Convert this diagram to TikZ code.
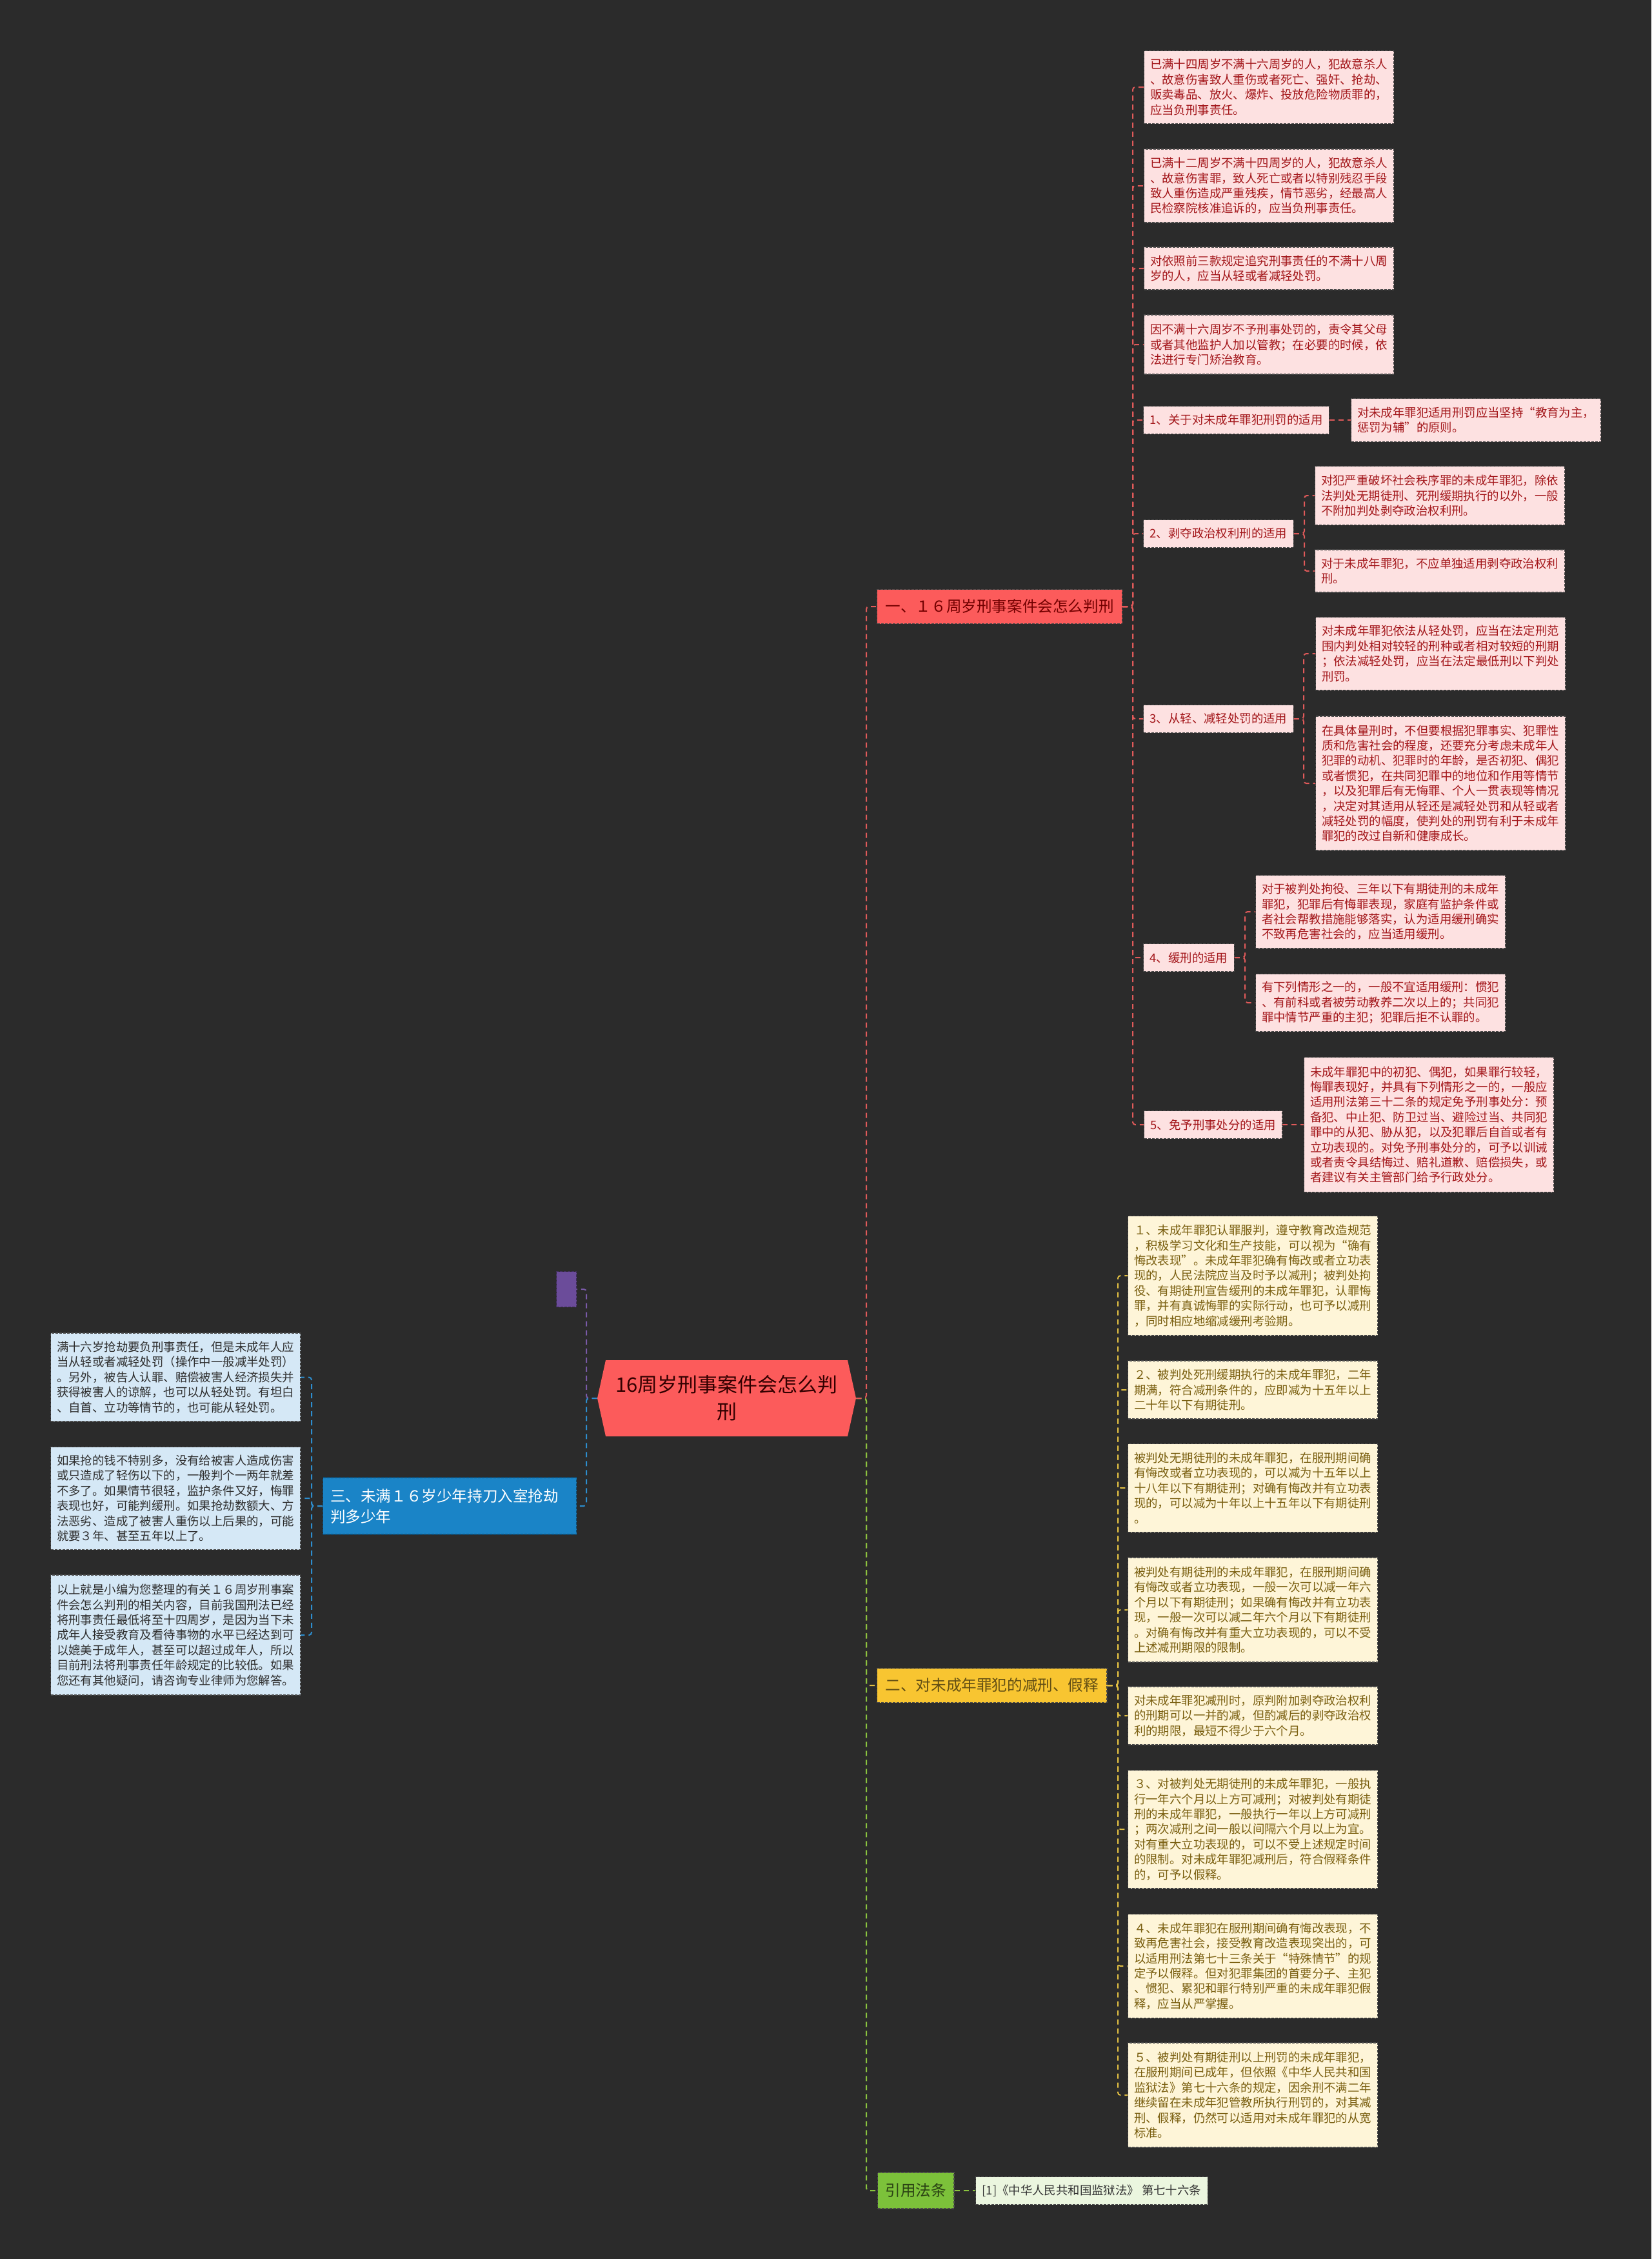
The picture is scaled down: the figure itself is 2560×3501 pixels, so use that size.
\documentclass[tikz,border=0pt]{standalone}
\usepackage{fontspec}
\setmainfont{Noto Sans CJK SC}
\usetikzlibrary{calc}
\definecolor{bg}{HTML}{2B2B2B}
\definecolor{mainred}{HTML}{FC5B5B}
\definecolor{redline}{HTML}{E05A5A}
\definecolor{pinkfill}{HTML}{FDE1E1}
\definecolor{pinktext}{HTML}{A3161A}
\definecolor{yelfill}{HTML}{FEF5D8}
\definecolor{yeltext}{HTML}{7A5F10}
\definecolor{yelnode}{HTML}{F8C531}
\definecolor{yelline}{HTML}{E2C043}
\definecolor{bluenode}{HTML}{1A84C7}
\definecolor{blueline}{HTML}{2D8ECF}
\definecolor{bluefill}{HTML}{D5E8F6}
\definecolor{purplenode}{HTML}{6B4C9A}
\definecolor{purpleline}{HTML}{7A5AA8}
\definecolor{greennode}{HTML}{7CC13A}
\definecolor{greenline}{HTML}{8AC43F}
\definecolor{greenfill}{HTML}{EBF6DF}
\definecolor{boxborder}{HTML}{4A4A4A}
\newcommand\fsmall{\fontsize{9.2pt}{11.7pt}\selectfont}
\newcommand\fmid{\fontsize{11.8pt}{16pt}\selectfont}
\newcommand\fbig{\fontsize{15.5pt}{21pt}\selectfont}
\tikzset{
  x=0.5pt, y=-0.5pt,
  boxbase/.style={rectangle, anchor=west, draw=boxborder, dash pattern=on 2pt off 1pt, line width=0.6pt, inner ysep=0pt, align=left},
  wide/.style={text width=184pt, inner xsep=4.75pt},
  pinkbox/.style={boxbase, fill=pinkfill, text=pinktext, font=\fsmall},
  subbox/.style={pinkbox, inner xsep=5pt, minimum height=21.5pt},
  yelbox/.style={boxbase, wide, fill=yelfill, text=yeltext, font=\fsmall},
  lbox/.style={boxbase, wide, fill=bluefill, text=black!82, font=\fsmall},
  secbox/.style={boxbase, font=\fmid, inner xsep=6.5pt, minimum height=26.5pt},
  conn/.style={dash pattern=on 4pt off 3pt, line width=1pt, rounded corners=2pt},
}
\begin{document}
\begin{tikzpicture}
\fill[bg] (0,0) rectangle (2560,3501);
\useasboundingbox (0,0) rectangle (2560,3501);

% bus coordinates
\coordinate (tr) at (1343,0);
\coordinate (b1) at (1756,0);
\coordinate (b2) at (2022,0);
\coordinate (b3) at (2021,0);
\coordinate (b4) at (1930,0);
\coordinate (b5) at (1733,0);
\coordinate (b6) at (909,0);
\coordinate (b7) at (483,0);

% main node
\fill[mainred] (939,2108) -- (1314,2108) -- (1327,2167) -- (1314,2226) -- (939,2226) -- (926,2167) -- cycle;
\node[minimum width=200.5pt, minimum height=59pt, inner sep=0pt, align=center, font=\fbig, text=black!80!red] (main) at (1126.5,2167) {16周岁刑事案件会怎么判\\刑};

% section nodes
\node[secbox, fill=mainred, text=black!55!red] (s1) at (1359,940) {一、１６周岁刑事案件会怎么判刑};
\node[secbox, fill=yelnode, text=black!60!yelnode] (s2) at (1359,2612) {二、对未成年罪犯的减刑、假释};
\node[secbox, fill=greennode, text=black!65!greennode, inner xsep=6pt, minimum height=28pt] (s3) at (1360,3395) {引用法条};
\node[boxbase, fill=greenfill, text=black!80, font=\fsmall, inner xsep=5pt, minimum height=21.5pt] (cite) at (1512,3395) {[1]《中华人民共和国监狱法》 第七十六条};
\node[boxbase, fill=purplenode, draw=purplenode!60!black, minimum width=15.5pt, minimum height=27.5pt, inner sep=0pt] (purple) at (862,1998) {};
\node[boxbase, fill=bluenode, draw=bluenode!60!black, text=white, font=\fmid, text width=185pt, inner xsep=5.75pt, minimum height=44pt] (blue) at (500,2334) {三、未满１６岁少年持刀入室抢劫\\判多少年};

% red branch
\node[pinkbox, wide, minimum height=56.5pt] (r1) at (1773,135) {已满十四周岁不满十六周岁的人，犯故意杀人\\、故意伤害致人重伤或者死亡、强奸、抢劫、\\贩卖毒品、放火、爆炸、投放危险物质罪的，\\应当负刑事责任。};
\node[pinkbox, wide, minimum height=57pt] (r2) at (1773,288) {已满十二周岁不满十四周岁的人，犯故意杀人\\、故意伤害罪，致人死亡或者以特别残忍手段\\致人重伤造成严重残疾，情节恶劣，经最高人\\民检察院核准追诉的，应当负刑事责任。};
\node[pinkbox, wide, minimum height=33pt] (r3) at (1773,416) {对依照前三款规定追究刑事责任的不满十八周\\岁的人，应当从轻或者减轻处罚。};
\node[pinkbox, wide, minimum height=46pt] (r4) at (1773,534) {因不满十六周岁不予刑事处罚的，责令其父母\\或者其他监护人加以管教；在必要的时候，依\\法进行专门矫治教育。};
\node[subbox] (sub1) at (1772,651) {1、关于对未成年罪犯刑罚的适用};
\node[pinkbox, wide, minimum height=33.5pt] (c1) at (2094,651) {对未成年罪犯适用刑罚应当坚持“教育为主，\\惩罚为辅”的原则。};
\node[subbox] (sub2) at (1772,827) {2、剥夺政治权利刑的适用};
\node[pinkbox, wide, minimum height=45.5pt] (c2a) at (2038,768) {对犯严重破坏社会秩序罪的未成年罪犯，除依\\法判处无期徒刑、死刑缓期执行的以外，一般\\不附加判处剥夺政治权利刑。};
\node[pinkbox, wide, minimum height=33pt] (c2b) at (2038,885) {对于未成年罪犯，不应单独适用剥夺政治权利\\刑。};
\node[subbox] (sub3) at (1772,1114) {3、从轻、减轻处罚的适用};
\node[pinkbox, wide, minimum height=56.5pt] (c3a) at (2039,1013) {对未成年罪犯依法从轻处罚，应当在法定刑范\\围内判处相对较轻的刑种或者相对较短的刑期\\；依法减轻处罚，应当在法定最低刑以下判处\\刑罚。};
\node[pinkbox, wide, minimum height=104pt] (c3b) at (2039,1214) {在具体量刑时，不但要根据犯罪事实、犯罪性\\质和危害社会的程度，还要充分考虑未成年人\\犯罪的动机、犯罪时的年龄，是否初犯、偶犯\\或者惯犯，在共同犯罪中的地位和作用等情节\\，以及犯罪后有无悔罪、个人一贯表现等情况\\，决定对其适用从轻还是减轻处罚和从轻或者\\减轻处罚的幅度，使判处的刑罚有利于未成年\\罪犯的改过自新和健康成长。};
\node[subbox] (sub4) at (1772,1484) {4、缓刑的适用};
\node[pinkbox, wide, minimum height=56.5pt] (c4a) at (1946,1413) {对于被判处拘役、三年以下有期徒刑的未成年\\罪犯，犯罪后有悔罪表现，家庭有监护条件或\\者社会帮教措施能够落实，认为适用缓刑确实\\不致再危害社会的，应当适用缓刑。};
\node[pinkbox, wide, minimum height=44.5pt] (c4b) at (1946,1554) {有下列情形之一的，一般不宜适用缓刑：惯犯\\、有前科或者被劳动教养二次以上的；共同犯\\罪中情节严重的主犯；犯罪后拒不认罪的。};
\node[subbox] (sub5) at (1773,1743) {5、免予刑事处分的适用};
\node[pinkbox, wide, minimum height=104.5pt] (c5) at (2021,1743) {未成年罪犯中的初犯、偶犯，如果罪行较轻，\\悔罪表现好，并具有下列情形之一的，一般应\\适用刑法第三十二条的规定免予刑事处分：预\\备犯、中止犯、防卫过当、避险过当、共同犯\\罪中的从犯、胁从犯，以及犯罪后自首或者有\\立功表现的。对免予刑事处分的，可予以训诫\\或者责令具结悔过、赔礼道歉、赔偿损失，或\\者建议有关主管部门给予行政处分。};

% yellow branch
\node[yelbox, minimum height=92.5pt] (y1) at (1748,1977) {１、未成年罪犯认罪服判，遵守教育改造规范\\，积极学习文化和生产技能，可以视为“确有\\悔改表现”。未成年罪犯确有悔改或者立功表\\现的，人民法院应当及时予以减刑；被判处拘\\役、有期徒刑宣告缓刑的未成年罪犯，认罪悔\\罪，并有真诚悔罪的实际行动，也可予以减刑\\，同时相应地缩减缓刑考验期。};
\node[yelbox, minimum height=45pt] (y2) at (1748,2154) {２、被判处死刑缓期执行的未成年罪犯，二年\\期满，符合减刑条件的，应即减为十五年以上\\二十年以下有期徒刑。};
\node[yelbox, minimum height=68.5pt] (y3) at (1748,2306) {被判处无期徒刑的未成年罪犯，在服刑期间确\\有悔改或者立功表现的，可以减为十五年以上\\十八年以下有期徒刑；对确有悔改并有立功表\\现的，可以减为十年以上十五年以下有期徒刑\\。};
\node[yelbox, minimum height=81pt] (y4) at (1748,2495) {被判处有期徒刑的未成年罪犯，在服刑期间确\\有悔改或者立功表现，一般一次可以减一年六\\个月以下有期徒刑；如果确有悔改并有立功表\\现，一般一次可以减二年六个月以下有期徒刑\\。对确有悔改并有重大立功表现的，可以不受\\上述减刑期限的限制。};
\node[yelbox, minimum height=45pt] (y5) at (1748,2659) {对未成年罪犯减刑时，原判附加剥夺政治权利\\的刑期可以一并酌减，但酌减后的剥夺政治权\\利的期限，最短不得少于六个月。};
\node[yelbox, minimum height=91.5pt] (y6) at (1748,2835) {３、对被判处无期徒刑的未成年罪犯，一般执\\行一年六个月以上方可减刑；对被判处有期徒\\刑的未成年罪犯，一般执行一年以上方可减刑\\；两次减刑之间一般以间隔六个月以上为宜。\\对有重大立功表现的，可以不受上述规定时间\\的限制。对未成年罪犯减刑后，符合假释条件\\的，可予以假释。};
\node[yelbox, minimum height=80.5pt] (y7) at (1748,3047) {４、未成年罪犯在服刑期间确有悔改表现，不\\致再危害社会，接受教育改造表现突出的，可\\以适用刑法第七十三条关于“特殊情节”的规\\定予以假释。但对犯罪集团的首要分子、主犯\\、惯犯、累犯和罪行特别严重的未成年罪犯假\\释，应当从严掌握。};
\node[yelbox, minimum height=81pt] (y8) at (1748,3247) {５、被判处有期徒刑以上刑罚的未成年罪犯，\\在服刑期间已成年，但依照《中华人民共和国\\监狱法》第七十六条的规定，因余刑不满二年\\继续留在未成年犯管教所执行刑罚的，对其减\\刑、假释，仍然可以适用对未成年罪犯的从宽\\标准。};

% left branch
\node[lbox, minimum height=68.5pt] (L1) at (78,2134.5) {满十六岁抢劫要负刑事责任，但是未成年人应\\当从轻或者减轻处罚（操作中一般减半处罚）\\。另外，被告人认罪、赔偿被害人经济损失并\\获得被害人的谅解，也可以从轻处罚。有坦白\\、自首、立功等情节的，也可能从轻处罚。};
\node[lbox, minimum height=79.5pt] (L2) at (78,2322) {如果抢的钱不特别多，没有给被害人造成伤害\\或只造成了轻伤以下的，一般判个一两年就差\\不多了。如果情节很轻，监护条件又好，悔罪\\表现也好，可能判缓刑。如果抢劫数额大、方\\法恶劣、造成了被害人重伤以上后果的，可能\\就要３年、甚至五年以上了。};
\node[lbox, minimum height=93pt] (L3) at (78,2534) {以上就是小编为您整理的有关１６周岁刑事案\\件会怎么判刑的相关内容，目前我国刑法已经\\将刑事责任最低将至十四周岁，是因为当下未\\成年人接受教育及看待事物的水平已经达到可\\以媲美于成年人，甚至可以超过成年人，所以\\目前刑法将刑事责任年龄规定的比较低。如果\\您还有其他疑问，请咨询专业律师为您解答。};

% connectors: trunk
\draw[conn, yelline] (main.east) -- (main.east -| tr) |- (s2.west);
\draw[conn, greenline] (main.east) -- (main.east -| tr) |- (s3.west);
\draw[conn, redline] (main.east) -- (main.east -| tr) |- (s1.west);
\draw[conn, purpleline] (main.west) -- (main.west -| b6) |- (purple.east);
\draw[conn, blueline] (main.west) -- (main.west -| b6) |- (blue.east);
% red
\foreach \n in {r1,r2,r3,r4,sub1,sub2,sub3,sub4,sub5}
  \draw[conn, redline] (s1.east) -- (s1.east -| b1) |- (\n.west);
\draw[conn, redline] (sub1.east) -- (c1.west);
\foreach \n in {c2a,c2b} \draw[conn, redline] (sub2.east) -- (sub2.east -| b2) |- (\n.west);
\foreach \n in {c3a,c3b} \draw[conn, redline] (sub3.east) -- (sub3.east -| b3) |- (\n.west);
\foreach \n in {c4a,c4b} \draw[conn, redline] (sub4.east) -- (sub4.east -| b4) |- (\n.west);
\draw[conn, redline] (sub5.east) -- (c5.west);
% yellow
\foreach \n in {y1,y2,y3,y4,y5,y6,y7,y8}
  \draw[conn, yelline] (s2.east) -- (s2.east -| b5) |- (\n.west);
% green
\draw[conn, greenline] (s3.east) -- (cite.west);
% blue
\foreach \n in {L1,L2,L3}
  \draw[conn, blueline] (blue.west) -- (blue.west -| b7) |- (\n.east);
\end{tikzpicture}
\end{document}
